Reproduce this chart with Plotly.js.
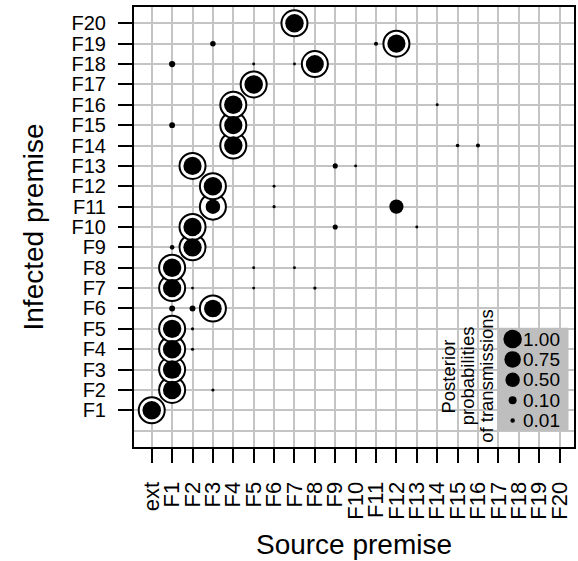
<!DOCTYPE html>
<html>
<head>
<meta charset="utf-8">
<script src="https://cdn.plot.ly/plotly-3.0.1.min.js"></script>
<style>
html,body{margin:0;padding:0;background:#ffffff;}
#chart{width:578px;height:561px;}
</style>
</head>
<body>
<div id="chart"></div>
<script>
// ---------------- data ----------------
const sourceLabels = ['ext','F1','F2','F3','F4','F5','F6','F7','F8','F9','F10',
  'F11','F12','F13','F14','F15','F16','F17','F18','F19','F20'];
const targetLabels = ['F1','F2','F3','F4','F5','F6','F7','F8','F9','F10',
  'F11','F12','F13','F14','F15','F16','F17','F18','F19','F20'];

// posterior probability of each transmission (source -> infected premise)
const edgeSource = [
  'ext',
  'F1','F3',
  'F1',
  'F1','F2',
  'F1','F2',
  'F3','F1','F2',
  'F1','F2','F5','F8',
  'F1','F5','F7',
  'F2','F1',
  'F2','F9','F13',
  'F3','F12','F6',
  'F3','F6',
  'F2','F9','F10',
  'F4','F15','F16',
  'F4','F1',
  'F4','F14',
  'F5',
  'F8','F1','F5','F7',
  'F12','F3','F11',
  'F7'
];
const edgeTarget = [
  'F1',
  'F2','F2',
  'F3',
  'F4','F4',
  'F5','F5',
  'F6','F6','F6',
  'F7','F7','F7','F7',
  'F8','F8','F8',
  'F9','F9',
  'F10','F10','F10',
  'F11','F11','F11',
  'F12','F12',
  'F13','F13','F13',
  'F14','F14','F14',
  'F15','F15',
  'F16','F16',
  'F17',
  'F18','F18','F18','F18',
  'F19','F19','F19',
  'F20'
];
const edgeProb = [
  1.00,
  0.99,0.004,
  1.00,
  0.99,0.004,
  0.99,0.004,
  0.90,0.045,0.045,
  0.98,0.003,0.003,0.005,
  0.99,0.003,0.003,
  0.98,0.012,
  0.97,0.025,0.003,
  0.50,0.48,0.004,
  0.99,0.003,
  0.97,0.025,0.003,
  0.99,0.006,0.008,
  0.96,0.045,
  0.99,0.003,
  1.00,
  0.94,0.055,0.003,0.003,
  0.96,0.035,0.008,
  1.00
];
// true (ringed) source of each infected premise F1..F20
const trueSource = ['ext','F1','F1','F1','F1','F3','F1','F1','F2','F2',
  'F3','F3','F2','F4','F4','F4','F5','F8','F12','F7'];

const legendProbs  = [1.00,0.75,0.50,0.10,0.01];
const legendLabels = ['1.00','0.75','0.50','0.10','0.01'];
const legendTitle  = ['Posterior','probabilities','of transmissions'];

// ---------------- styling helpers ----------------
const FONT = 'Liberation Sans, Arial, Helvetica, sans-serif';
const SIZE_TABLE = [[0.001,2.5],[0.01,4.5],[0.1,8],[0.5,14.5],[0.75,16.5],[1,18.5]];
function sizeOf(p){
  if (p <= SIZE_TABLE[0][0]) return SIZE_TABLE[0][1];
  for (let i=1;i<SIZE_TABLE.length;i++){
    const a=SIZE_TABLE[i-1], b=SIZE_TABLE[i];
    if (p <= b[0]) return a[1] + (p-a[0])/(b[0]-a[0])*(b[1]-a[1]);
  }
  return SIZE_TABLE[SIZE_TABLE.length-1][1];
}
const xi = l => sourceLabels.indexOf(l);
const yi = l => targetLabels.indexOf(l) + 1;

const ringTrace = {
  type:'scatter', mode:'markers', hoverinfo:'skip', showlegend:false,
  x: trueSource.map(xi),
  y: targetLabels.map(yi),
  marker:{symbol:'circle', size:26, opacity:1, color:'#ffffff', line:{color:'#000000', width:2}}
};
const dotTrace = {
  type:'scatter', mode:'markers', hoverinfo:'skip', showlegend:false,
  x: edgeSource.map(xi),
  y: edgeTarget.map(yi),
  marker:{symbol:'circle', size: edgeProb.map(sizeOf), opacity:1, color:'#000000', line:{width:0}}
};
// legend placement (layout positions in data units)
const LEG_X = 17.7, LEG_TOP = 4.5;
const legendTrace = {
  type:'scatter', mode:'markers', hoverinfo:'skip', showlegend:false,
  x: legendProbs.map(() => LEG_X),
  y: legendProbs.map((p,i) => LEG_TOP - i),
  marker:{symbol:'circle', size: legendProbs.map(sizeOf), opacity:1, color:'#000000', line:{width:0}}
};

const annotations = [];
legendLabels.forEach((t,i) => annotations.push({
  xref:'x', yref:'y', x: 18.1, y: LEG_TOP - i, text: t, showarrow:false,
  xanchor:'left', yanchor:'middle', font:{family:FONT, size:19, color:'#000'}
}));
const titleX = [14.55, 15.47, 16.38];
legendTitle.forEach((t,i) => annotations.push({
  xref:'x', yref:'y', x: titleX[i], y: 2.68, text: t, showarrow:false, textangle:-90,
  xanchor:'center', yanchor:'middle', font:{family:FONT, size:18.5, color:'#000'}
}));

const GRID = '#c4c4c4';
const layout = {
  width:578, height:561,
  margin:{l:134, r:4, t:7, b:114, pad:0},
  paper_bgcolor:'#ffffff', plot_bgcolor:'#ffffff',
  showlegend:false, hovermode:false,
  font:{family:FONT, color:'#000'},
  xaxis:{
    range:[-0.87, 20.71], tickmode:'array',
    tickvals: sourceLabels.map((l,i)=>i), ticktext: sourceLabels,
    tickangle:-90, ticks:'outside', ticklen:14, tickwidth:2, tickcolor:'#000',
    ticklabelstandoff:10,
    tickfont:{family:FONT, size:22, color:'#000'},
    showgrid:true, gridcolor:GRID, gridwidth:2, zeroline:false,
    showline:true, linecolor:'#000', linewidth:2, mirror:true,
    title:{text:'Source premise', font:{family:FONT, size:28, color:'#000'}, standoff:16},
    fixedrange:true
  },
  yaxis:{
    range:[-0.8, 20.8], tickmode:'array',
    tickvals: targetLabels.map((l,i)=>i+1), ticktext: targetLabels,
    ticks:'outside', ticklen:14, tickwidth:2, tickcolor:'#000',
    ticklabelstandoff:8,
    tickfont:{family:FONT, size:20, color:'#000'},
    showgrid:true, gridcolor:GRID, gridwidth:2, zeroline:false,
    minor:{tickvals:[0], showgrid:true, gridcolor:GRID, gridwidth:2, ticks:''},
    showline:true, linecolor:'#000', linewidth:2, mirror:true,
    title:{text:'Infected premise', font:{family:FONT, size:28, color:'#000'}, standoff:20},
    fixedrange:true
  },
  shapes:[{
    type:'rect', xref:'x', yref:'y', x0:16.95, x1:20.44, y0:0, y1:5.05,
    fillcolor:'#bebebe', line:{width:0}, layer:'between'
  }],
  annotations: annotations
};

Plotly.newPlot('chart', [ringTrace, dotTrace, legendTrace], layout, {staticPlot:true, displayModeBar:false});
</script>
</body>
</html>
